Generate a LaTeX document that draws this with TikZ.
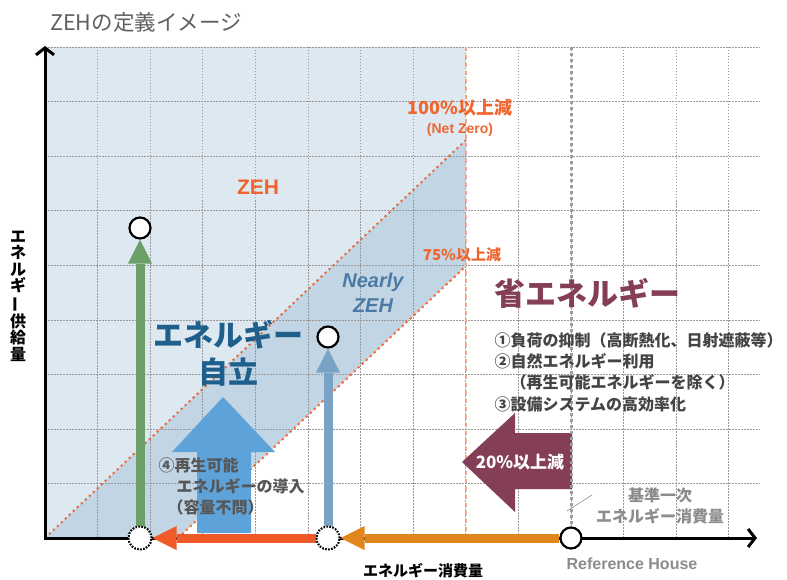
\documentclass[tikz,border=0pt]{standalone}
\usepackage{fontspec}
\setmainfont{Noto Sans CJK JP}
\newfontfamily\latfont{Liberation Sans}
\usepackage{graphicx}
\usepackage{tikz}
\usetikzlibrary{positioning,arrows.meta}
\definecolor{ZehTitle}{RGB}{95, 95, 95}
\definecolor{ZehPale}{RGB}{222, 232, 241}
\definecolor{ZehBand}{RGB}{194, 213, 228}
\definecolor{ZehCut}{RGB}{240, 100, 45}
\definecolor{ZehCutLight}{RGB}{248, 165, 125}
\definecolor{ZehNearly}{RGB}{75, 123, 165}
\definecolor{ZehSelf}{RGB}{31, 95, 139}
\definecolor{ZehSave}{RGB}{132, 63, 87}
\definecolor{ZehText}{RGB}{68, 68, 68}
\definecolor{ZehGrey}{RGB}{140, 140, 140}
\definecolor{ZehGreen}{RGB}{107, 159, 103}
\definecolor{ZehSteel}{RGB}{120, 163, 198}
\definecolor{ZehSky}{RGB}{93, 162, 217}
\definecolor{ZehRed}{RGB}{240, 90, 40}
\definecolor{ZehAmber}{RGB}{224, 134, 28}

\begin{document}
\begin{tikzpicture}[x=1pt, y=-1pt,
    gridline/.style={black!40, line width=0.8pt, dash pattern=on 1.5pt off 1.5pt},
    endcirc/.style={circle, draw=black, fill=white, line width=2.2pt, minimum size=21pt, inner sep=0pt},
    opencirc/.style={circle, draw=black, fill=white, line width=2pt, dash pattern=on 1.5pt off 1.5pt, minimum size=23pt, inner sep=0pt},
    flow/.style={line width=9pt, -{Triangle[length=24pt, width=24pt, line width=0pt]}},
    cut/.style={ZehCut, line width=2pt, dash pattern=on 2pt off 3.5pt},
    axis/.style={line width=3pt, {Straight Barb[length=7pt, width=18pt]}-{Straight Barb[length=7pt, width=18pt]}}
  ]
  \useasboundingbox (0,0) rectangle (787,580);

  \fill[ZehPale] (45,47) -- (466,47) -- (466,266) -- (178,538) -- (45,538) -- cycle;
  \fill[ZehBand] (45,538) -- (466,140) -- (466,266) -- (178,538) -- cycle;

  \foreach \i in {1,...,13}
    \draw[gridline] ({45+52.6*\i},47) -- ({45+52.6*\i},538);
  \foreach \j in {0,...,8}
    \draw[gridline] (45,{47+54.6*\j}) -- (760,{47+54.6*\j});

  \draw[cut] (45,538) -- (466,140);
  \draw[cut] (178,538) -- (466,266);
  \draw[ZehCutLight, line width=2.5pt, dash pattern=on 4pt off 4pt] (466,47) -- (466,538);

  \coordinate (origin) at (45,538);
  \coordinate (ytip) at (45,46);
  \coordinate (xtip) at (757,538);
  \draw[axis] (ytip) -- (origin) -- (xtip);

  \fill[ZehSky] (197,533) -- (197,452) -- (172,452) -- (223,397) -- (275,452) -- (251,452) -- (251,533) -- cycle;
  \fill[ZehSave] (572,433) -- (515,433) -- (515,413) -- (462,462) -- (515,512) -- (515,489) -- (572,489) -- cycle;
  \draw[black!38, line width=3pt, dash pattern=on 3pt off 3pt] (571,47) -- (571,524);

  \node[endcirc] (zehtop) at (140,228) {};
  \node[opencirc] (zehbase) at (140,538) {};
  \node[endcirc] (nearlytop) at (328,337) {};
  \node[opencirc] (nearlybase) at (328,538) {};
  \node[endcirc] (refhouse) at (571,538) {};

  \draw[flow, ZehAmber] (refhouse) -- (nearlybase);
  \draw[flow, ZehRed] (nearlybase) -- (zehbase);
  \draw[flow, ZehGreen] (zehbase) -- (zehtop);
  \draw[flow, ZehSteel] (nearlybase) -- (nearlytop);
  \node[opencirc] at (zehbase) {};
  \node[opencirc] at (nearlybase) {};

  \node[text=ZehTitle, font=\fontsize{21.5}{21.5}\selectfont] (title) at (146,22) {ZEHの定義イメージ};
  \node[text=ZehCut, font=\bfseries\fontsize{18}{18}\selectfont] (netzero) at (460,108) {100\%以上減};
  \node[text=ZehCut, font=\latfont\bfseries\fontsize{14}{14}\selectfont, below=0pt of netzero] (netzerosub) {(Net Zero)};
  \node[text=ZehCut, font=\bfseries\fontsize{15}{15}\selectfont] (cut75) at (462,255) {75\%以上減};
  \node[text=ZehCut, font=\latfont\bfseries\fontsize{21}{21}\selectfont] (zehlabel) at (258,187) {ZEH};
  \node[text=ZehNearly, font=\latfont\bfseries\itshape\fontsize{20}{25}\selectfont, align=center] (nearly) at (373,293) {Nearly\\ZEH};
  \node[text=ZehSelf, font=\bfseries\fontsize{30}{37}\selectfont, align=center] (selfsupply) at (228,353) {エネルギー\\自立};
  \node[text=ZehSave, font=\bfseries\fontsize{31}{31}\selectfont, anchor=west] (saving) at (491,293) {省エネルギー};
  \node[text=ZehText, font=\bfseries\fontsize{16}{21.3}\selectfont, align=left, anchor=west] (measures) at (491,372)
    {①負荷の抑制（高断熱化、日射遮蔽等）\\②自然エネルギー利用\\\hspace{1em}（再生可能エネルギーを除く）\\③設備システムの高効率化};
  \node[text=ZehText!90, font=\bfseries\fontsize{16}{21}\selectfont, align=left, anchor=west] (renew) at (155,486)
    {④再生可能\\\hspace{18pt}エネルギーの導入\\\hspace{9pt}（容量不問）};
  \node[text=white, font=\bfseries\fontsize{17}{17}\selectfont] (cut20) at (520,462) {20\%以上減};
  \node[text=ZehGrey, font=\bfseries\fontsize{16}{21}\selectfont, align=center] (baseline) at (660,506) {基準一次\\エネルギー消費量};
  \coordinate (leadstart) at (567,511);
  \coordinate (leadend) at (592,495);
  \draw[ZehGrey, line width=0.6pt] (leadstart) -- (leadend);
  \node[text=ZehGrey, font=\latfont\bfseries\fontsize{16}{16}\selectfont] (refname) at (632,564) {Reference House};
  \node[text=black, font=\bfseries\fontsize{15}{15}\selectfont] (xlabel) at (423,571) {エネルギー消費量};
  \node[text=black, font=\bfseries\fontsize{16}{16.5}\selectfont, align=center] (ylabel) at (18,296)
    {エ\\ネ\\ル\\ギ\\\rotatebox[origin=c]{90}{ー}\\供\\給\\量};
\end{tikzpicture}
\end{document}
